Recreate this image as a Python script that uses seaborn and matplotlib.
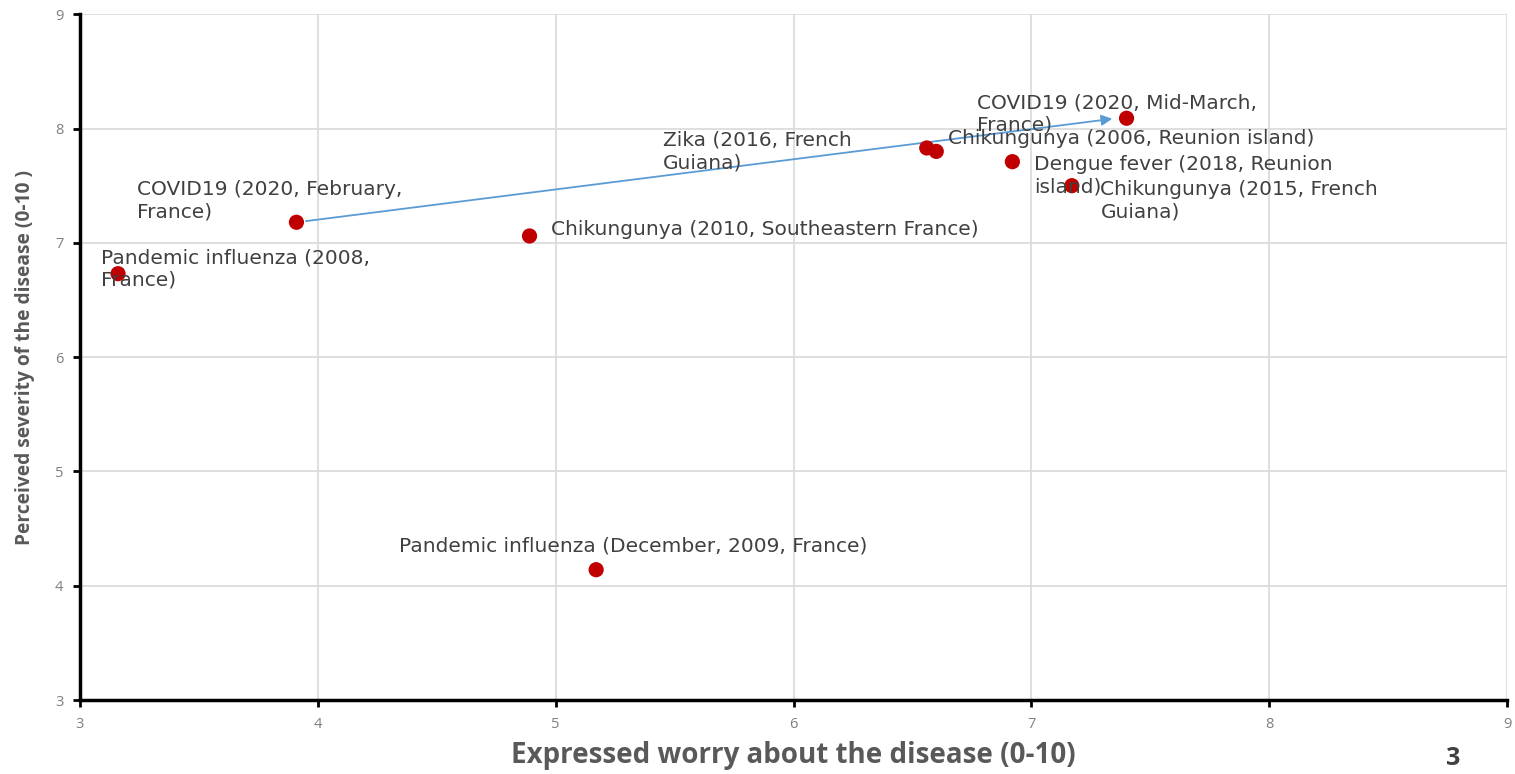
import matplotlib
matplotlib.use("Agg")
import matplotlib.pyplot as plt
import seaborn as sns
import pandas as pd

# ---- data ----
labels = [
    "COVID19 (2020, February,\nFrance)",
    "Pandemic influenza (2008,\nFrance)",
    "Chikungunya (2010, Southeastern France)",
    "Pandemic influenza (December, 2009, France)",
    "Zika (2016, French\nGuiana)",
    "Chikungunya (2006, Reunion island)",
    "Dengue fever (2018, Reunion\nisland)",
    "Chikungunya (2015, French\nGuiana)",
    "COVID19 (2020, Mid-March,\nFrance)",
]
worry = [3.91, 3.16, 4.89, 5.17, 6.56, 6.60, 6.92, 7.17, 7.40]
severity = [7.18, 6.73, 7.06, 4.14, 7.83, 7.80, 7.71, 7.50, 8.09]
ticks = [3, 4, 5, 6, 7, 8, 9]

# ---- layout: label offsets (dx, dy) in data units from each point to label's top-left ----
label_offsets = [(-0.67, 0.37), (-0.07, 0.22), (0.09, 0.14), (-0.83, 0.29),
                 (-1.11, 0.15), (0.05, 0.20), (0.09, 0.06), (0.12, 0.05), (-0.63, 0.22)]

df = pd.DataFrame({"worry": worry, "severity": severity, "label": labels})

sns.set_theme(style="white")
plt.rcParams['font.family'] = ['Open Sans', 'DejaVu Sans']

fig = plt.figure(figsize=(15.15, 7.74), dpi=100)
ax = fig.add_axes([0.0528, 0.0956, 0.942, 0.886])

sns.scatterplot(data=df, x="worry", y="severity", ax=ax, color="#C00000",
                s=120, edgecolor="none", zorder=3)

# arrow from February to mid-March COVID
ax.annotate("", xy=(7.34, 8.085), xytext=(worry[0] + 0.04, severity[0] + 0.01),
            arrowprops=dict(arrowstyle="-|>", color="#5B9BD5", lw=1.3,
                            mutation_scale=16, shrinkA=0, shrinkB=0), zorder=2)

for x, y, t, (dx, dy) in zip(worry, severity, labels, label_offsets):
    ax.text(x + dx, y + dy, t, fontsize=14.5, color="#404040", va="top", ha="left",
            family="DejaVu Sans", linespacing=1.22, zorder=4)

ax.set_xlim(ticks[0], ticks[-1])
ax.set_ylim(ticks[0], ticks[-1])
ax.set_xticks(ticks)
ax.set_yticks(ticks)
ax.grid(True, color="#D9D9D9", lw=1.2)
ax.set_axisbelow(True)
for side in ["top", "right"]:
    ax.spines[side].set_visible(False)
ax.spines["left"].set_color("black")
ax.spines["left"].set_linewidth(2.5)
ax.spines["bottom"].set_color("black")
ax.spines["bottom"].set_linewidth(2.5)
ax.tick_params(axis="both", which="major", direction="out", length=5, width=2,
               color="black", labelsize=10.5, labelcolor="#7F7F7F", bottom=True, left=True, pad=7)

ax.set_xlabel("Expressed worry about the disease (0-10)", fontsize=20, fontweight="bold",
              color="#595959", labelpad=7)
ax.set_ylabel("Perceived severity of the disease (0-10 )", fontsize=13.8, fontweight="bold",
              color="#595959", labelpad=14)

fig.text(0.9545, 0.004, "3", fontsize=18, fontweight="bold", color="#404040",
         va="bottom", ha="left")

fig.savefig("out.png", dpi=100)
